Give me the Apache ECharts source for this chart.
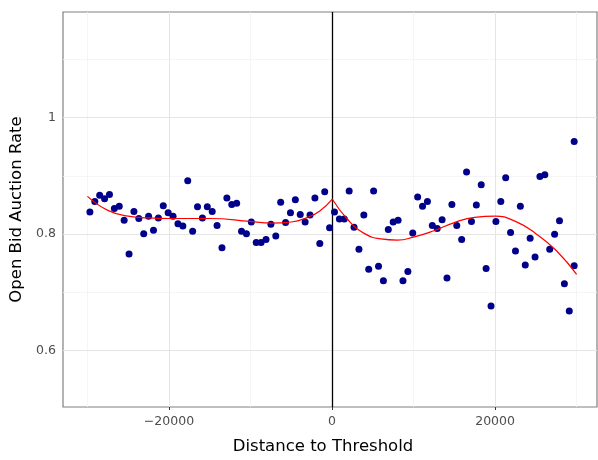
<!DOCTYPE html>
<html>
<head>
<meta charset="utf-8">
<script src="https://cdn.jsdelivr.net/npm/echarts@6/dist/echarts.min.js"></script>
<style>
  html, body { margin: 0; padding: 0; background: #ffffff; }
  #chart { width: 598px; height: 460px; }
</style>
</head>
<body>
<div id="chart"></div>
<script>
// Binned open-bid auction rates on each side of the threshold
const binsLeft = [-29700, -29100, -28500, -27900, -27300, -26700, -26100, -25500, -24900, -24300,
  -23700, -23100, -22500, -21900, -21300, -20700, -20100, -19500, -18900, -18300,
  -17700, -17100, -16500, -15900, -15300, -14700, -14100, -13500, -12900, -12300,
  -11700, -11100, -10500, -9900, -9300, -8700, -8100, -7500, -6900, -6300,
  -5700, -5100, -4500, -3900, -3300, -2700, -2100, -1500, -900, -300];
const rateLeft = [0.838, 0.856, 0.867, 0.861, 0.868, 0.844, 0.848, 0.824, 0.766, 0.839,
  0.827, 0.801, 0.831, 0.807, 0.828, 0.849, 0.837, 0.831, 0.818, 0.814,
  0.892, 0.805, 0.847, 0.828, 0.847, 0.839, 0.815, 0.777, 0.862, 0.851,
  0.853, 0.805, 0.801, 0.821, 0.786, 0.786, 0.791, 0.817, 0.797, 0.855,
  0.820, 0.837, 0.859, 0.834, 0.821, 0.833, 0.862, 0.784, 0.873, 0.811];

const binsRight = [300, 900, 1500, 2100, 2700, 3300, 3900, 4500, 5100, 5700,
  6300, 6900, 7500, 8100, 8700, 9300, 9900, 10500, 11100, 11700,
  12300, 12900, 13500, 14100, 14700, 15300, 15900, 16500, 17100, 17700,
  18300, 18900, 19500, 20100, 20700, 21300, 21900, 22500, 23100, 23700,
  24300, 24900, 25500, 26100, 26700, 27300, 27900, 28500, 29100, 29700, 29700];
const rateRight = [0.838, 0.826, 0.826, 0.874, 0.812, 0.774, 0.833, 0.740, 0.874, 0.745,
  0.720, 0.808, 0.821, 0.824, 0.720, 0.736, 0.802, 0.864, 0.848, 0.856,
  0.815, 0.810, 0.825, 0.725, 0.851, 0.815, 0.791, 0.907, 0.822, 0.850,
  0.885, 0.741, 0.677, 0.822, 0.856, 0.897, 0.803, 0.771, 0.848, 0.747,
  0.793, 0.761, 0.899, 0.902, 0.774, 0.800, 0.823, 0.715, 0.668, 0.959, 0.746];

// Fitted curves, one per side of the cutoff
const fitLeftX = [-30000, -27500, -25000, -22500, -20000, -15000, -10000, -7500, -5000, -3000, -1500, 0];
const fitLeftY = [0.865, 0.841, 0.831, 0.828, 0.827, 0.827, 0.822, 0.819, 0.821, 0.829, 0.840, 0.860];
const fitRightX = [0, 2000, 4000, 6000, 8000, 10000, 12500, 15000, 17500, 20000, 22500, 25000, 27500, 30000];
const fitRightY = [0.861, 0.824, 0.801, 0.792, 0.790, 0.795, 0.806, 0.820, 0.829, 0.831, 0.822, 0.801, 0.772, 0.731];

// Axis ticks and grid lines
const xTicks = [-20000, 0, 20000];
const xMinor = [-30000, -10000, 10000, 30000];
const yTicks = [0.6, 0.8, 1.0];
const yMinor = [0.7, 0.9, 1.1];
const threshold = 0;

const font = 'DejaVu Sans';
const pairs = (xs, ys) => xs.map((x, i) => [x, ys[i]]);

const majorStyle = { color: '#e5e5e5', width: 1, type: 'solid' };
const minorStyle = { color: '#f3f3f3', width: 0.8, type: 'solid' };

const gridLines = [].concat(
  xMinor.map(v => ({ xAxis: v, lineStyle: minorStyle })),
  yMinor.map(v => ({ yAxis: v, lineStyle: minorStyle })),
  xTicks.map(v => ({ xAxis: v, lineStyle: majorStyle })),
  yTicks.map(v => ({ yAxis: v, lineStyle: majorStyle }))
);

const chart = echarts.init(document.getElementById('chart'), null, { renderer: 'canvas' });

chart.setOption({
  animation: false,
  backgroundColor: '#ffffff',
  grid: {
    left: 63, top: 12, right: 1, bottom: 47,
    show: true, backgroundColor: '#ffffff',
    borderColor: '#808080', borderWidth: 1.2
  },
  xAxis: {
    type: 'value',
    min: -33000, max: 32500,
    splitLine: { show: false },
    axisLine: { show: false },
    axisTick: { show: true, customValues: xTicks, length: 3, lineStyle: { color: '#333333', width: 1 } },
    axisLabel: {
      customValues: xTicks,
      color: '#4d4d4d', fontSize: 12.5, fontFamily: font, margin: 8,
      formatter: v => (v < 0 ? '\u2212' + Math.abs(v) : String(v))
    },
    name: 'Distance to Threshold',
    nameLocation: 'middle', nameGap: 31,
    nameTextStyle: { color: '#000000', fontSize: 16.5, fontFamily: font, padding: [0, 14, 0, 0] }
  },
  yAxis: {
    type: 'value',
    min: 0.5034, max: 1.1815,
    splitLine: { show: false },
    axisLine: { show: false },
    axisTick: { show: true, customValues: yTicks, length: 3, lineStyle: { color: '#333333', width: 1 } },
    axisLabel: {
      customValues: yTicks,
      color: '#4d4d4d', fontSize: 12.5, fontFamily: font, margin: 7,
      formatter: v => String(+v.toFixed(2))
    },
    name: 'Open Bid Auction Rate',
    nameLocation: 'middle', nameGap: 35,
    nameTextStyle: { color: '#000000', fontSize: 16.5, fontFamily: font }
  },
  series: [
    {
      name: 'grid',
      type: 'line',
      data: [],
      z: 1,
      silent: true,
      markLine: { z: 1, silent: true, symbol: ['none', 'none'], label: { show: false }, data: gridLines }
    },
    {
      name: 'threshold',
      type: 'line',
      data: [],
      z: 2,
      silent: true,
      markLine: {
        z: 2, silent: true, symbol: ['none', 'none'], label: { show: false },
        lineStyle: { color: '#000000', width: 1.3, type: 'solid' },
        data: [{ xAxis: threshold }]
      }
    },
    {
      name: 'below',
      type: 'scatter',
      data: pairs(binsLeft, rateLeft),
      symbolSize: 7,
      itemStyle: { color: '#00008b', opacity: 1 },
      z: 3
    },
    {
      name: 'above',
      type: 'scatter',
      data: pairs(binsRight, rateRight),
      symbolSize: 7,
      itemStyle: { color: '#00008b', opacity: 1 },
      z: 3
    },
    {
      name: 'fit below',
      type: 'line',
      data: pairs(fitLeftX, fitLeftY),
      smooth: 0.5,
      showSymbol: false,
      lineStyle: { color: '#ff0000', width: 1.2 },
      z: 4
    },
    {
      name: 'fit above',
      type: 'line',
      data: pairs(fitRightX, fitRightY),
      smooth: 0.5,
      showSymbol: false,
      lineStyle: { color: '#ff0000', width: 1.2 },
      z: 4
    }
  ]
});
</script>
</body>
</html>
